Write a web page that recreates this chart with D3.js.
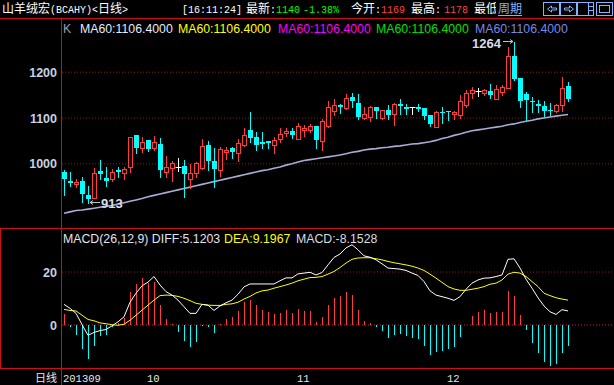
<!DOCTYPE html>
<html>
<head>
<meta charset="utf-8">
<script src="https://cdn.jsdelivr.net/npm/d3@7"></script>
<style>
  body { margin: 0; background: #000; }
  svg { display: block; }
</style>
</head>
<body>
<svg width="614" height="385"></svg>
<script>
// daily candles
const opens  = [981,961,955,961,931,925,983,968,965,985,978,991,1061,1034,1051,1033,1042,980,989,993,
                994,965,978,989,1041,1005,985,1024,1034,1022,1040,1073,1057,1047,1049,1041,1052,1067,1071,1054,
                1073,1072,1081,1049,1081,1115,1127,1121,1144,1132,1100,1102,1122,1098,1116,1108,1129,1124,1122,1124,
                1120,1105,1080,1113,1114,1107,1105,1127,1154,1157,1154,1158,1140,1156,1165,1234,1186,1151,1136,1130,
                1125,1116,1115,1127,1169];
const closes = [965,956,959,932,922,978,977,961,980,981,988,1057,1034,1046,1031,1046,986,993,1000,993,
                977,979,1000,1038,1006,988,1031,1030,1025,1044,1061,1055,1040,1043,1045,1051,1063,1071,1062,1081,
                1076,1081,1051,1092,1122,1127,1124,1142,1135,1101,1107,1122,1115,1116,1105,1129,1126,1119,1122,1118,
                1104,1086,1113,1109,1111,1111,1136,1154,1160,1157,1160,1149,1162,1167,1234,1183,1135,1138,1133,1126,
                1115,1114,1127,1164,1140];
const highs  = [985,980,965,969,951,989,1007,992,988,993,993,1058,1061,1057,1051,1060,1055,1017,1006,1011,
                1007,999,1003,1053,1049,1033,1035,1035,1036,1053,1076,1113,1068,1068,1049,1058,1076,1076,1076,1089,
                1084,1086,1081,1097,1136,1140,1129,1151,1153,1151,1123,1125,1122,1116,1127,1132,1141,1129,1122,1129,
                1120,1105,1114,1122,1114,1114,1149,1160,1167,1165,1162,1174,1170,1170,1253,1264,1186,1156,1145,1138,
                1136,1131,1129,1188,1178];
const lows   = [931,951,949,916,913,924,965,951,962,971,965,980,1023,1025,1027,1029,971,971,962,984,
                927,947,971,988,985,949,972,1010,1011,1006,1038,1046,1029,1033,1034,1022,1047,1060,1055,1053,
                1060,1069,1033,1029,1079,1105,1109,1119,1124,1097,1097,1093,1100,1097,1096,1084,1108,1108,1108,1115,
                1097,1081,1079,1089,1094,1097,1100,1124,1143,1148,1149,1143,1140,1149,1165,1182,1124,1095,1113,1113,
                1103,1105,1113,1115,1136];
const ma60   = [891,894,897,898,900,902,904,906,908,911,914,917,920,923,927,930,933,936,939,942,
                945,948,951,954,957,960,963,966,969,972,975,978,981,984,986,989,992,996,999,1003,
                1006,1008,1010,1012,1014,1016,1018,1021,1024,1026,1029,1031,1032,1034,1035,1037,1038,1040,1042,1043,
                1045,1047,1050,1054,1057,1061,1064,1068,1071,1073,1075,1077,1079,1081,1084,1086,1089,1092,1094,1097,
                1099,1101,1103,1105,1106.4];

// MACD(26,12,9)
const diffVals = [7.6,6.1,4.2,0,-4.1,-3.0,-2.3,-1.9,-0.5,1.0,2.9,8.4,11.8,14.6,16.0,18.1,14.9,12.4,11.1,9.2,
                  6.7,4.2,4.2,7.6,7.3,5.3,7.0,8.2,9.2,11.4,14.2,15.3,15.3,15.3,15.3,15.3,16.5,17.6,17.6,19.1,
                  19.4,19.7,18.7,19.6,22.5,25.3,26.6,28.9,30.1,28.2,25.9,25.4,24.4,22.9,21.3,21.1,20.9,20.4,19.4,18.5,
                  16.2,12.7,11.1,10.5,9.9,9.1,10.5,13.3,15.6,16.8,17.5,17.6,18.1,18.7,24.6,24.8,21.3,17.1,13.7,10.1,
                  7.0,4.8,3.8,5.6,5.1203];
const deaVals  = [5.7,5.3,5.1,3.5,1.9,1.4,0.6,0.3,-0.1,-0.3,0.1,1.6,3.5,5.4,7.3,9.2,10.9,11.1,11.0,10.6,
                  9.9,9.0,8.0,7.6,7.3,7.2,7.2,7.6,7.8,8.4,9.6,10.6,11.9,12.7,13.0,13.7,14.3,14.9,15.6,16.5,
                  17.1,17.7,17.8,18.1,19.0,20.0,21.5,23.2,24.6,25.1,25.2,25.2,24.8,24.4,23.8,23.3,22.9,22.5,22.0,21.3,
                  20.4,19.0,17.5,15.9,14.3,13.4,12.9,12.9,13.3,13.7,14.3,15.2,15.6,16.8,19.0,19.7,19.4,18.1,16.2,14.3,
                  11.8,10.9,10.1,9.6,9.1967];
const macdVals = [3.8,-0.9,-4.0,-9.4,-13.2,-8.1,-4.4,-4.0,-0.8,0.5,2.3,12.4,15.3,17.7,15.6,16.0,7.3,2.0,0.3,-2.8,
                  -6.3,-8.5,-6.6,-0.6,-0.9,-3.2,0.2,2.0,2.9,5.1,8.6,9.2,7.3,5.4,4.6,3.8,4.4,5.3,4.3,5.8,
                  5.1,5.1,0.9,2.8,7.3,10.1,10.9,12.3,11.1,5.4,1.5,0.5,-0.9,-2.5,-5.1,-4.0,-3.7,-4.3,-5.1,-5.6,
                  -8.1,-11.4,-10.4,-10.1,-9.1,-8.6,-4.8,-0.2,3.3,4.6,5.3,4.3,4.7,4.7,12.7,10.9,3.5,-2.2,-6.8,-10.6,
                  -14.3,-15.7,-14.9,-10.6,-8.1528];

const priceTicks = [1000, 1100, 1200];
const macdTicks = [0, 20];
const monthLabels = ["201309", "10", "11", "12"];
const monthStarts = [0, 14, 39, 64];

const maLegend = ["MA60:1106.4000","MA60:1106.4000","MA60:1106.4000","MA60:1106.4000","MA60:1106.4000"];
const maColors = ["#e4ecff","#ffff00","#ff00ff","#00e000","#7888e8"];

const RED = "#ff3c3c", CYAN = "#00ffff", FRAME = "#cc1010";
const CJK = "'Noto Sans CJK SC', sans-serif";
const MONO = "'Liberation Mono', monospace";
const SANS = "'Liberation Sans', Arial, sans-serif";

const svg = d3.select("svg");
svg.append("rect").attr("width", 614).attr("height", 385).attr("fill", "#000");

const n = opens.length;
const x = d3.scalePoint().domain(d3.range(n)).range([64, 64 + 6 * (n - 1)]);
const y = d3.scaleLinear().domain([1000, 1200]).range([163.3, 71.7]);
const ym = d3.scaleLinear().domain([0, 20]).range([324.5, 271.5]);
const px = i => Math.round(x(i)) + 0.5;
const py = v => Math.round(y(v)) + 0.5;

// ---- frame lines
const frame = svg.append("g").attr("stroke", FRAME).attr("stroke-width", 1).attr("fill", "none");
frame.append("line").attr("x1", 0).attr("x2", 614).attr("y1", 18.5).attr("y2", 18.5);
frame.append("line").attr("x1", 0).attr("x2", 614).attr("y1", 228.5).attr("y2", 228.5);
frame.append("line").attr("x1", 0).attr("x2", 614).attr("y1", 368.5).attr("y2", 368.5);
frame.append("line").attr("x1", 61.5).attr("x2", 61.5).attr("y1", 18).attr("y2", 385);
frame.append("line").attr("x1", 0.5).attr("x2", 0.5).attr("y1", 228).attr("y2", 369);

// ---- price grid + labels
const gridP = svg.append("g").attr("transform", "translate(62,0)")
  .call(d3.axisRight(y).tickValues(priceTicks).tickSize(552).tickFormat(""));
gridP.select(".domain").remove();
gridP.selectAll(".tick line").attr("stroke", "#9a1414").attr("stroke-dasharray", "1,2");

const axP = svg.append("g").attr("transform", "translate(57,0)")
  .call(d3.axisLeft(y).tickValues(priceTicks).tickSize(0).tickPadding(0).tickFormat(d3.format("d")));
axP.select(".domain").remove();
axP.selectAll("text").attr("fill", "#c8d2e0").attr("font-family", SANS)
  .attr("font-size", 12.5).attr("font-weight", "bold").attr("dy", "0.36em");

// ---- MA60 line
svg.append("path").datum(ma60)
  .attr("fill", "none").attr("stroke", "#a8acd4").attr("stroke-width", 1.6)
  .attr("d", d3.line().x((d, i) => x(i)).y(d => y(d)));

// ---- candles
const bars = d3.range(n).map(i => ({ i, o: opens[i], c: closes[i], h: highs[i], l: lows[i] }));
const colorOf = d => d.c > d.o ? RED : d.c < d.o ? CYAN : "#ffffff";
const cg = svg.append("g");
cg.selectAll("line.wick").data(bars).join("line")
  .attr("x1", d => px(d.i)).attr("x2", d => px(d.i))
  .attr("y1", d => Math.round(y(d.h))).attr("y2", d => Math.round(y(d.l)) + 1)
  .attr("stroke", colorOf);
cg.selectAll("rect.up").data(bars.filter(d => d.c > d.o)).join("rect")
  .attr("x", d => px(d.i) - 2).attr("width", 4)
  .attr("y", d => py(d.c)).attr("height", d => Math.max(1, py(d.o) - py(d.c)))
  .attr("fill", "#000").attr("stroke", RED);
cg.selectAll("rect.down").data(bars.filter(d => d.c < d.o)).join("rect")
  .attr("x", d => px(d.i) - 2.5).attr("width", 5)
  .attr("y", d => Math.round(y(d.o))).attr("height", d => Math.max(1, Math.round(y(d.c)) - Math.round(y(d.o))))
  .attr("fill", CYAN);
cg.selectAll("line.doji").data(bars.filter(d => d.c === d.o)).join("line")
  .attr("x1", d => px(d.i) - 3).attr("x2", d => px(d.i) + 3)
  .attr("y1", d => py(d.o)).attr("y2", d => py(d.o))
  .attr("stroke", "#ffffff");

// ---- high / low marks
const hiI = d3.maxIndex(highs), loI = d3.minIndex(lows);
const mark = svg.append("g").attr("fill", "#d8dce8").attr("font-family", SANS)
  .attr("font-size", 13).attr("font-weight", "bold");
mark.append("text").attr("x", x(hiI) - 13).attr("y", y(highs[hiI]) + 6)
  .attr("text-anchor", "end").text(highs[hiI]);
mark.append("path").attr("fill", "none").attr("stroke", "#c0c0c8")
  .attr("d", `M${x(hiI) - 11},${py(highs[hiI]) - 1}h10m-3,-2l3,2l-3,2`);
mark.append("text").attr("x", x(loI) + 13).attr("y", y(lows[loI]) + 4.5).text(lows[loI]);
mark.append("path").attr("fill", "none").attr("stroke", "#c0c0c8")
  .attr("d", `M${x(loI) + 12},${py(lows[loI]) - 1}h-10m3,-2l-3,2l3,2`);

// ---- K legend
svg.append("text").attr("x", 63).attr("y", 33).attr("fill", "#98a0b0")
  .attr("font-family", SANS).attr("font-size", 12.3).text("K");
const legX = [80, 178, 278, 376, 475];
svg.selectAll("text.leg").data(maLegend).join("text")
  .attr("x", (d, i) => legX[i]).attr("y", 33)
  .attr("fill", (d, i) => maColors[i]).attr("font-family", SANS).attr("font-size", 12.3)
  .text(d => d);

// ---- MACD pane
const gridM = svg.append("g").attr("transform", "translate(62,0)")
  .call(d3.axisRight(ym).tickValues(macdTicks).tickSize(552).tickFormat(""));
gridM.select(".domain").remove();
gridM.selectAll(".tick line")
  .attr("stroke", d => d === 0 ? "#e01818" : "#9a1414").attr("stroke-dasharray", "1,2");
const axM = svg.append("g").attr("transform", "translate(57,0)")
  .call(d3.axisLeft(ym).tickValues(macdTicks).tickSize(0).tickPadding(0));
axM.select(".domain").remove();
axM.selectAll("text").attr("fill", "#c8d2e0").attr("font-family", SANS)
  .attr("font-size", 12.5).attr("font-weight", "bold").attr("dy", "0.36em");

svg.append("g").selectAll("line").data(macdVals).join("line")
  .attr("x1", (d, i) => px(i)).attr("x2", (d, i) => px(i))
  .attr("y1", Math.round(ym(0))).attr("y2", d => Math.round(ym(d)))
  .attr("stroke", d => d >= 0 ? RED : CYAN);

const mline = d3.line().x((d, i) => x(i)).y(d => ym(d));
svg.append("path").datum(deaVals).attr("fill", "none").attr("stroke", "#ffff00").attr("d", mline);
svg.append("path").datum(diffVals).attr("fill", "none").attr("stroke", "#ffffff").attr("d", mline);

const f4 = d3.format(".4f");
const mt = svg.append("text").attr("y", 243).attr("font-family", SANS).attr("font-size", 12.3);
mt.append("tspan").attr("x", 63).attr("fill", "#e0e4ec").text("MACD(26,12,9) DIFF:" + f4(diffVals[n - 1]));
mt.append("tspan").attr("x", 224).attr("fill", "#ffff00").text("DEA:" + f4(deaVals[n - 1]));
mt.append("tspan").attr("x", 296).attr("fill", "#d8dce4").text("MACD:" + f4(macdVals[n - 1]).replace("−", "-"));

// ---- bottom axis
const bot = svg.append("g").attr("font-family", MONO).attr("font-size", 10.5).attr("fill", "#e8e8e8");
bot.append("text").attr("x", 35).attr("y", 382).attr("font-family", CJK).attr("font-size", 11).text("日线");
bot.selectAll("text.m").data(monthLabels).join("text")
  .attr("x", (d, i) => Math.round(x(monthStarts[i])) - 1).attr("y", 382).text(d => d);

// ---- header
const hd = svg.append("g").attr("font-size", 10);
function seg(xp, parts) {
  const t = hd.append("text").attr("x", xp).attr("y", 13);
  parts.forEach(([s, c, cjk]) => t.append("tspan").attr("fill", c)
    .attr("font-family", cjk ? CJK : MONO).attr("font-size", cjk ? 12 : 10).text(s));
}
seg(2, [["山羊绒宏", "#fff", 1], ["(BCAHY)<", "#fff"], ["日线", "#fff", 1], [">", "#fff"]]);
seg(182, [["[16:11:24]", "#fff"]]);
seg(246, [["最新", "#fff", 1], [":", "#fff"], ["1140", "#00ff00"]]);
seg(303, [["-1.38%", "#00ff00"]]);
seg(351, [["今开", "#fff", 1], [":", "#fff"], ["1169", "#ff4040"]]);
seg(411, [["最高", "#fff", 1], [":", "#fff"]]);
seg(444, [["1178", "#ff4040"]]);
seg(474, [["最低", "#fff", 1]]);
hd.append("rect").attr("x", 496).attr("y", 0).attr("width", 30).attr("height", 18).attr("fill", "#000");
seg(498, [["周期", "#80b4ff", 1]]);
hd.append("line").attr("x1", 498).attr("x2", 522).attr("y1", 15.5).attr("y2", 15.5).attr("stroke", "#80b4ff");

// toolbar icons
const ic = svg.append("g").attr("fill", "none").attr("stroke", "#80b4ff");
[543.5, 560.5, 577.5, 596.5].forEach(bx => ic.append("rect").attr("x", bx).attr("y", 2.5).attr("width", 16).attr("height", 13));
ic.append("path").attr("d", "M547.5,9l4,-3v2h5v2h-5v2z");
ic.append("path").attr("d", "M573.5,9l-4,-3v2h-5v2h5v2z");
ic.append("path").attr("d", "M588.5,2.5v13M588.5,6.5h5M588.5,10.5h5");
ic.append("rect").attr("x", 599.5).attr("y", 5.5).attr("width", 10).attr("height", 7);
</script>
</body>
</html>
